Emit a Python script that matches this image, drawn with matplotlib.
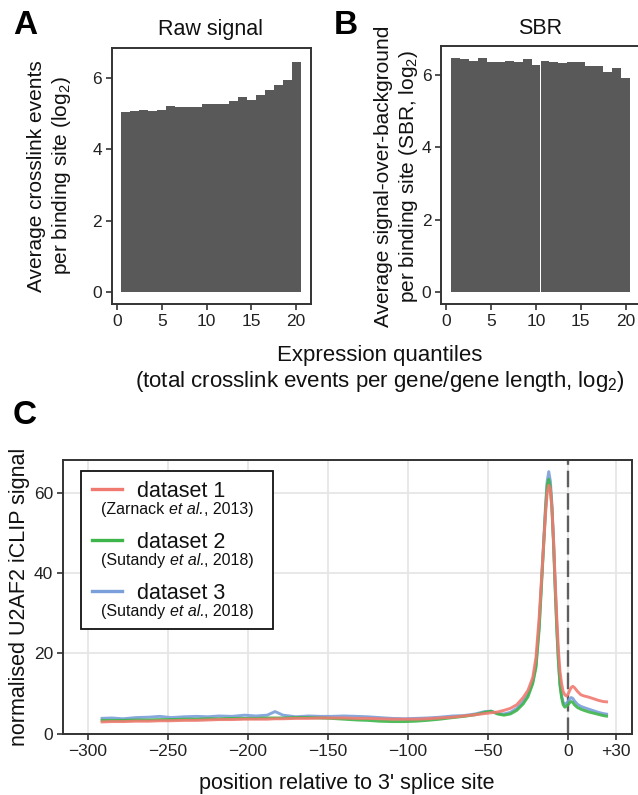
import matplotlib
matplotlib.use('Agg')
import matplotlib.pyplot as plt
from matplotlib.patches import Rectangle
from matplotlib.lines import Line2D
from matplotlib.transforms import offset_copy

plt.rcParams['font.family'] = ['Liberation Sans', 'DejaVu Sans']
plt.rcParams['mathtext.fontset'] = 'custom'
plt.rcParams['mathtext.rm'] = 'Liberation Sans'
plt.rcParams['mathtext.it'] = 'Liberation Sans:italic'
plt.rcParams['mathtext.bf'] = 'Liberation Sans:bold'

# ---------------- data ----------------
quantiles = list(range(1, 21))
raw_signal = [5.05, 5.07, 5.10, 5.07, 5.10, 5.23, 5.20, 5.18, 5.18, 5.27,
              5.27, 5.27, 5.35, 5.46, 5.40, 5.52, 5.66, 5.81, 5.95, 6.45]
sbr_signal = [6.45, 6.42, 6.39, 6.47, 6.36, 6.34, 6.39, 6.36, 6.42, 6.28,
              6.39, 6.36, 6.31, 6.34, 6.34, 6.23, 6.25, 6.06, 6.17, 5.92]

positions = [-292, -285, -278, -270, -262, -255, -248, -240, -232, -225, -218, -210,
             -202, -195, -188, -183, -178, -170, -162, -155, -148, -140, -132, -125,
             -118, -110, -102, -95, -88, -80, -72, -65, -58, -52, -48, -44, -40, -36,
             -32, -28, -25, -22, -20, -18, -16, -14, -13, -12, -11, -10, -9, -8, -7,
             -6, -5, -4, -3, -2, -1, 0, 1, 2, 3, 4, 6, 8, 10, 13, 16, 19, 22, 25]
dataset1 = [2.9, 3.0, 3.0, 3.1, 3.1, 3.2, 3.2, 3.3, 3.3, 3.4, 3.5, 3.5,
            3.6, 3.6, 3.6, 3.7, 3.7, 3.8, 3.8, 3.9, 3.9, 3.9, 3.8, 3.8,
            3.7, 3.6, 3.6, 3.6, 3.7, 3.9, 4.1, 4.4, 4.7, 5.0, 5.2, 5.4, 5.8, 6.3,
            7.2, 9.0, 10.8, 14.0, 19.0, 29.0, 42.0, 55.0, 60.0, 62.0, 61.0, 56.0, 48.0, 38.0, 29.0,
            21.0, 15.5, 12.5, 10.5, 9.7, 9.4, 9.8, 10.7, 11.5, 11.8, 11.5, 10.5, 9.7, 9.4, 9.1, 8.7, 8.3, 8.0, 7.9]
dataset2 = [3.3, 3.3, 3.3, 3.4, 3.4, 3.5, 3.5, 3.6, 3.6, 3.7, 3.7, 3.8,
            3.8, 3.8, 3.9, 3.9, 3.9, 4.0, 4.0, 3.9, 3.8, 3.6, 3.4, 3.3,
            3.1, 3.0, 3.0, 3.1, 3.3, 3.6, 4.0, 4.3, 4.7, 5.3, 5.6, 4.9, 4.6, 4.9,
            5.8, 7.4, 9.2, 12.5, 16.5, 26.0, 41.0, 56.0, 62.0, 63.5, 61.5, 56.0, 47.0, 36.0, 26.0,
            18.0, 12.0, 9.0, 7.2, 6.6, 6.8, 7.2, 7.7, 8.0, 7.8, 7.2, 6.5, 6.1, 5.8, 5.4, 5.1, 4.8, 4.5, 4.3]
dataset3 = [3.8, 3.9, 3.7, 4.0, 4.1, 4.3, 4.0, 4.2, 4.3, 4.2, 4.4, 4.3,
            4.6, 4.4, 4.6, 5.5, 4.6, 4.2, 4.4, 4.3, 4.3, 4.4, 4.3, 4.2,
            4.0, 3.8, 3.7, 3.8, 3.9, 4.1, 4.4, 4.5, 4.9, 5.5, 5.6, 5.0, 4.9, 5.3,
            6.3, 8.0, 9.8, 13.0, 17.0, 27.0, 42.0, 57.0, 63.0, 65.4, 63.0, 57.0, 48.0, 37.0, 27.0,
            18.5, 12.5, 9.5, 7.8, 7.3, 7.5, 8.0, 8.6, 9.0, 8.8, 8.2, 7.3, 6.8, 6.5, 6.1, 5.7, 5.3, 5.0, 4.8]

series_names = ['dataset 1', 'dataset 2', 'dataset 3']
series_authors = ['Zarnack', 'Sutandy', 'Sutandy']
series_years = ['2013', '2018', '2018']
series_colors = ['#F07A70', '#3DB54A', '#7A9FDA']
c_xticks = [-300, -250, -200, -150, -100, -50, 0, 30]
c_xticklabels = ['\u2212300', '\u2212250', '\u2212200', '\u2212150', '\u2212100', '\u221250', '0', '+30']

# ---------------- layout ----------------
W, H = 638, 795
fig = plt.figure(figsize=(W / 100, H / 100), dpi=100)


def ax_at(l, t, r, b):
    return fig.add_axes([l / W, 1 - b / H, (r - l) / W, (b - t) / H])


SPINE = '#333333'
TICKC = '#222222'
TXT = '#111111'


def style_box(ax):
    for s in ax.spines.values():
        s.set_color(SPINE)
        s.set_linewidth(1.4)
    ax.tick_params(direction='out', length=4, width=1.2, colors=SPINE,
                   labelcolor=TICKC, labelsize=12.5, pad=3)


# Panel A
axA = ax_at(111.5, 48, 310.5, 304)
axA.bar(quantiles, raw_signal, width=1.0, color='#595959', linewidth=0)
axA.set_xlim(-0.6, 21.6)
axA.set_ylim(-0.34, 6.85)
axA.set_xticks([0, 5, 10, 15, 20])
axA.set_yticks([0, 2, 4, 6])
style_box(axA)
axA.set_title('Raw signal', fontsize=15.5, pad=9, color=TXT)

# Panel B
axB = ax_at(441, 46, 640, 304)
axB.bar(quantiles, sbr_signal, width=1.0, color='#595959', linewidth=0)
axB.set_xlim(-0.6, 21.6)
axB.set_ylim(-0.32, 6.79)
axB.set_xticks([0, 5, 10, 15, 20])
axB.set_yticks([0, 2, 4, 6])
style_box(axB)
axB.set_title('SBR', fontsize=15.5, pad=9, color=TXT)

fig.text(50 / W, 1 - 176 / H, 'Average crosslink events\nper binding site (log$_2$)',
         rotation=90, ha='center', va='center', fontsize=15, linespacing=1.25,
         multialignment='center', color=TXT)
fig.text(397 / W, 1 - 176 / H, 'Average signal-over-background\nper binding site (SBR, log$_2$)',
         rotation=90, ha='center', va='center', fontsize=15, linespacing=1.25,
         multialignment='center', color=TXT)

fig.text(380 / W, 1 - 355 / H, 'Expression quantiles', ha='center', va='center',
         fontsize=16, color=TXT)
fig.text(380 / W, 1 - 382 / H, '(total crosslink events per gene/gene length, log$_2$)',
         ha='center', va='center', fontsize=16, color=TXT)

fig.text(25 / W, 1 - 25 / H, 'A', ha='center', va='center', fontsize=24, fontweight='bold')
fig.text(346 / W, 1 - 25 / H, 'B', ha='center', va='center', fontsize=24, fontweight='bold')
fig.text(25 / W, 1 - 415 / H, 'C', ha='center', va='center', fontsize=24, fontweight='bold')

# Panel C
axC = ax_at(63, 460, 632, 734)
axC.set_xlim(-315.5, 40)
axC.set_ylim(-0.1, 68.3)
axC.set_xticks(c_xticks)
axC.set_xticklabels(c_xticklabels)
axC.set_yticks([0, 20, 40, 60])
axC.grid(True, color='#E6E6E6', linewidth=1.3)
axC.set_axisbelow(True)
style_box(axC)
axC.axvline(0, color='#5f5f5f', linewidth=1.7, dashes=(7, 2.5), zorder=1.5)

all_vals = [dataset1, dataset2, dataset3]
for idx in [2, 1, 0]:
    axC.plot(positions, all_vals[idx], color=series_colors[idx], linewidth=2.1,
             alpha=0.9, solid_capstyle='butt', zorder=2 + (2 - idx))

fig.text(20 / W, 1 - 597 / H, 'normalised U2AF2 iCLIP signal', rotation=90,
         ha='center', va='center', fontsize=15.5, color=TXT)
fig.text(347 / W, 1 - 784 / H, "position relative to 3' splice site",
         ha='center', va='center', fontsize=15.5, color=TXT)

# custom legend
fig.patches.append(Rectangle((81 / W, 1 - 629 / H), (273 - 81) / W, (629 - 471) / H,
                             transform=fig.transFigure, facecolor='white',
                             edgecolor=TXT, linewidth=1.3, zorder=5))
line_y = [489, 540, 591]
name_base = [497, 548, 599]
ref_base = [514, 565, 616]
renderer = fig.canvas.get_renderer()


def mixed_text(x_px, y_px, parts, size):
    """Draw consecutive text pieces (text, style) on one baseline."""
    x = x_px
    for txt, style in parts:
        t = fig.text(x / W, 1 - y_px / H, txt, ha='left', va='baseline', fontsize=size,
                     fontstyle=style, color=TXT, zorder=6)
        bb = t.get_window_extent(renderer=renderer)
        x += bb.width


for i in range(3):
    fig.lines.append(Line2D([92 / W, 122 / W], [1 - line_y[i] / H] * 2,
                            transform=fig.transFigure, color=series_colors[i],
                            linewidth=2.4, zorder=6))
    fig.text(137 / W, 1 - name_base[i] / H, series_names[i], ha='left', va='baseline',
             fontsize=15.5, color=TXT, zorder=6)
    mixed_text(101, ref_base[i],
               [('(' + series_authors[i] + '\u00a0', 'normal'), ('et al.', 'italic'),
                (', ' + series_years[i] + ')', 'normal')], 11.5)

fig.savefig('out.png', dpi=100)
